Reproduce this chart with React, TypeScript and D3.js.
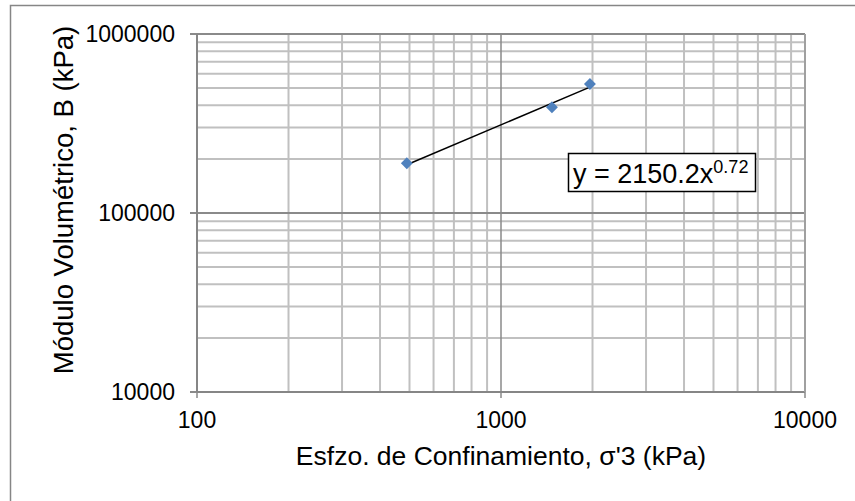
import React, { useRef, useEffect } from 'react';
import * as d3 from 'd3';

// --- data ---
const sigma3 = [490, 1471, 1961]; // kPa
const bulkModulus = [189700, 389500, 525700]; // kPa
const trendA = 2150.2;
const trendB = 0.72;
const xTicks = [100, 1000, 10000];
const yTicks = [10000, 100000, 1000000];
const xTitle = "Esfzo. de Confinamiento, σ'3 (kPa)";
const yTitle = "Módulo Volumétrico, B (kPa)";

const W = 855;
const H = 501;
const plot = { left: 197, right: 805, top: 34, bottom: 392 };
const FONT = 'Arial, "Liberation Sans", sans-serif';

const minorValues = (lo: number, hi: number) => {
    const out: number[] = [];
    for (let d = lo; d < hi; d *= 10) {
        for (let k = 2; k <= 9; k++) out.push(d * k);
    }
    return out;
};

const Chart: React.FC = () => {
    const svgRef = useRef<SVGSVGElement>(null);

    useEffect(() => {
        if (!svgRef.current) return;
        const svg = d3.select(svgRef.current);
        svg.selectAll("*").remove();

        const x = d3.scaleLog().domain([100, 10000]).range([plot.left, plot.right]);
        const y = d3.scaleLog().domain([10000, 1000000]).range([plot.bottom, plot.top]);

        // outer chart border (runs off the right/bottom edge)
        svg.append("rect")
            .attr("x", 10.5).attr("y", 5.5)
            .attr("width", 1000).attr("height", 1000)
            .attr("fill", "#fff")
            .attr("stroke", "#868686").attr("stroke-width", 1.5);

        // minor grid
        const g = svg.append("g");
        g.selectAll("line.vmin")
            .data(minorValues(100, 10000))
            .join("line")
            .attr("x1", d => x(d)).attr("x2", d => x(d))
            .attr("y1", plot.top).attr("y2", plot.bottom)
            .attr("stroke", "#c0c0c0").attr("stroke-width", 2);
        g.selectAll("line.hmin")
            .data(minorValues(10000, 1000000))
            .join("line")
            .attr("y1", d => y(d)).attr("y2", d => y(d))
            .attr("x1", plot.left).attr("x2", plot.right)
            .attr("stroke", "#c0c0c0").attr("stroke-width", 2);

        // major grid
        g.selectAll("line.vmaj")
            .data(xTicks)
            .join("line")
            .attr("x1", d => x(d)).attr("x2", d => x(d))
            .attr("y1", plot.top).attr("y2", plot.bottom + 6)
            .attr("stroke", "#8a8a8a").attr("stroke-width", 1.5);
        g.selectAll("line.hmaj")
            .data(yTicks)
            .join("line")
            .attr("y1", d => y(d)).attr("y2", d => y(d))
            .attr("x1", plot.left - 7).attr("x2", plot.right)
            .attr("stroke", "#8a8a8a").attr("stroke-width", 2);

        // axes lines
        svg.append("line")
            .attr("x1", plot.left).attr("x2", plot.left)
            .attr("y1", plot.top).attr("y2", plot.bottom)
            .attr("stroke", "#868686").attr("stroke-width", 2);
        svg.append("line")
            .attr("x1", plot.left).attr("x2", plot.right)
            .attr("y1", plot.bottom).attr("y2", plot.bottom)
            .attr("stroke", "#868686").attr("stroke-width", 2);
        svg.append("line")
            .attr("x1", plot.right).attr("x2", plot.right)
            .attr("y1", plot.top).attr("y2", plot.bottom)
            .attr("stroke", "#a0a0a0").attr("stroke-width", 2);

        // tick labels
        svg.selectAll("text.xt")
            .data(xTicks)
            .join("text")
            .attr("x", d => x(d)).attr("y", 428)
            .attr("text-anchor", "middle")
            .attr("font-family", FONT).attr("font-size", 23)
            .attr("fill", "#000")
            .text(d => String(d));
        svg.selectAll("text.yt")
            .data(yTicks)
            .join("text")
            .attr("x", 175).attr("y", d => y(d) + 8)
            .attr("text-anchor", "end")
            .attr("font-family", FONT).attr("font-size", 23)
            .attr("fill", "#000")
            .text(d => String(d));

        // axis titles
        svg.append("text")
            .attr("x", (plot.left + plot.right) / 2).attr("y", 465)
            .attr("text-anchor", "middle")
            .attr("font-family", FONT).attr("font-size", 26.5)
            .text(xTitle);
        svg.append("text")
            .attr("transform", `translate(73,200) rotate(-90)`)
            .attr("text-anchor", "middle")
            .attr("font-family", FONT).attr("font-size", 27.5)
            .text(yTitle);

        // power trendline
        const xs = [sigma3[0], sigma3[sigma3.length - 1]];
        svg.append("line")
            .attr("x1", x(xs[0])).attr("y1", y(trendA * Math.pow(xs[0], trendB)))
            .attr("x2", x(xs[1])).attr("y2", y(trendA * Math.pow(xs[1], trendB)))
            .attr("stroke", "#000").attr("stroke-width", 1.5);

        // data markers
        const diamond = d3.symbol().type(d3.symbolDiamond2).size(90);
        svg.selectAll("path.pt")
            .data(sigma3.map((s, i) => [s, bulkModulus[i]]))
            .join("path")
            .attr("d", diamond)
            .attr("transform", d => `translate(${x(d[0])},${y(d[1])})`)
            .attr("fill", "#4f81bd");

        // equation label
        const eq = svg.append("g");
        eq.append("rect")
            .attr("x", 568.5).attr("y", 153.5)
            .attr("width", 187).attr("height", 38)
            .attr("fill", "#fff").attr("stroke", "#000").attr("stroke-width", 1.5);
        const t = eq.append("text")
            .attr("x", 573).attr("y", 183)
            .attr("font-family", FONT).attr("font-size", 27);
        t.append("tspan").text(`y = ${trendA}x`);
        t.append("tspan").attr("dy", -10).attr("font-size", 18).text(String(trendB));
    }, []);

    return <svg ref={svgRef} width={W} height={H} style={{ display: 'block' }} />;
};

export default function App() {
    return (
        <div style={{ position: 'absolute', left: 0, top: 0, width: W, height: H, background: '#fff' }}>
            <Chart />
        </div>
    );
}
